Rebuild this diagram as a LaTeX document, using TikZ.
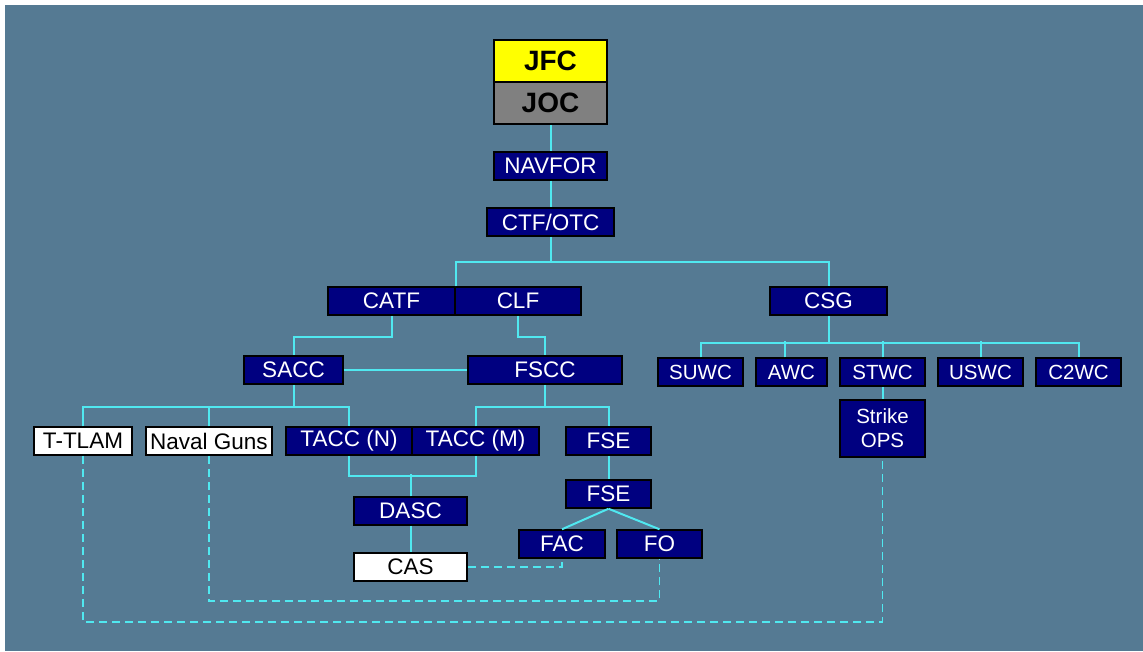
\documentclass[tikz,border=0pt]{standalone}
\usepackage{fontspec}
\setmainfont{Liberation Sans}
\usetikzlibrary{calc}
\definecolor{bg}{RGB}{85,122,147}
\definecolor{navy}{RGB}{0,0,128}
\definecolor{cyanline}{RGB}{80,232,240}
\definecolor{jocgray}{RGB}{128,128,128}
\definecolor{jfcyellow}{RGB}{255,255,0}
\tikzset{
  box/.style={draw=black, line width=1.5pt, fill=navy, text=white, minimum height=28pt, inner sep=0pt, font=\fontsize{22.5}{25}\selectfont},
  wbox/.style={box, fill=white, text=black},
  sbox/.style={box, font=\fontsize{20.5}{24}\selectfont},
  topbox/.style={draw=black, line width=1.5pt, minimum width=113pt, minimum height=42pt, inner sep=0pt, text=black, font=\fontsize{28}{30}\selectfont\bfseries},
  link/.style={draw=cyanline, line width=2pt},
  dlink/.style={draw=cyanline, line width=1.7pt, dash pattern=on 8pt off 5pt}
}
\begin{document}
\begin{tikzpicture}[x=1pt,y=-1pt]
\useasboundingbox (0,0) rectangle (1143,651);
\fill[white] (0,0) rectangle (1143,651);
\fill[bg] (5,5) rectangle (1143,651);

% nodes
\node[topbox, fill=jfcyellow] (jfc) at (550.5,61) {JFC};
\node[topbox, fill=jocgray] (joc) at (550.5,103) {JOC};
\node[box, minimum width=113pt] (navfor) at (550.5,166) {NAVFOR};
\node[box, minimum width=127pt] (ctf) at (550.5,222) {CTF/OTC};
\node[box, minimum width=127pt] (catf) at (391.5,301) {CATF};
\node[box, minimum width=126pt] (clf) at (518,301) {CLF};
\node[box, minimum width=117pt] (csg) at (828.5,301) {CSG};
\node[box, minimum width=99pt] (sacc) at (293.5,370) {SACC};
\node[box, minimum width=154pt] (fscc) at (545,370) {FSCC};
\node[wbox, minimum width=98pt] (ttlam) at (83,441) {T-TLAM};
\node[wbox, minimum width=126pt] (guns) at (209,441) {Naval Guns};
\node[box, minimum width=126pt] (taccn) at (349,441) {TACC (N)};
\node[box, minimum width=127pt] (taccm) at (475.5,441) {TACC (M)};
\node[box, minimum width=85pt] (fse1) at (608.5,441) {FSE};
\node[box, minimum width=85pt] (fse2) at (608.5,494) {FSE};
\node[box, minimum width=113pt] (dasc) at (410.5,511) {DASC};
\node[wbox, minimum width=113pt] (cas) at (410.5,567) {CAS};
\node[box, minimum width=86pt] (fac) at (562,544) {FAC};
\node[box, minimum width=85pt] (fo) at (659.5,544) {FO};
\node[sbox, minimum width=85pt] (suwc) at (700.5,372) {SUWC};
\node[sbox, minimum width=71pt] (awc) at (791.5,372) {AWC};
\node[sbox, minimum width=85pt] (stwc) at (882.5,372) {STWC};
\node[sbox, minimum width=85pt] (uswc) at (980.5,372) {USWC};
\node[sbox, minimum width=85pt] (c2wc) at (1078.5,372) {C2WC};
\node[sbox, minimum width=85pt, minimum height=57pt, align=center] (strike) at (882.5,428.5) {Strike\\OPS};

% connectors
\draw[link] (joc.south) -- (navfor.north);
\draw[link] (navfor.south) -- (ctf.north);
\draw[link] (ctf.south) -- ++(0,25) coordinate (tb);
\draw[link] (catf.north east) |- (tb) -| (csg.north);
\draw[link] (catf.south) -- ++(0,21) -| (sacc.north);
\draw[link] (clf.south) -- ++(0,21) -| (fscc.north);
\draw[link] (sacc.east) -- (fscc.west);
\draw[link] (sacc.south) -- ++(0,22) coordinate (sb);
\draw[link] (ttlam.north) |- (sb) -| (taccn.north);
\draw[link] (guns.north) -- (guns.north |- sb);
\draw[link] (fscc.south) -- ++(0,22) coordinate (fb);
\draw[link] (taccm.north) |- (fb) -| (fse1.north);
\draw[link] (taccn.south) -- ++(0,20) -| (taccm.south);
\draw[link] (dasc.north) -- ++(0,-22);
\draw[link] (dasc.south) -- (cas.north);
\draw[link] (fse1.south) -- (fse2.north);
\draw[link] (fse2.south) -- (fac.north);
\draw[link] (fse2.south) -- (fo.north);
\draw[dlink] (cas.east) -| (fac.south);
\draw[dlink] (guns.south) |- ($(fo.south)+(0,42)$) -- (fo.south);
\draw[dlink] (ttlam.south) |- ($(strike.south)+(0,164)$) -- (strike.south);
\draw[link] (csg.south) -- ++(0,27) coordinate (cb);
\draw[link] (suwc.north) |- (cb) -| (c2wc.north);
\draw[link] ($(awc.north)+(-6.5,0)$) -- ++(0,-16);
\draw[link] (stwc.north) -- ++(0,-16);
\draw[link] (uswc.north) -- ++(0,-16);
\draw[link] (stwc.south) -- (strike.north);
\end{tikzpicture}
\end{document}
